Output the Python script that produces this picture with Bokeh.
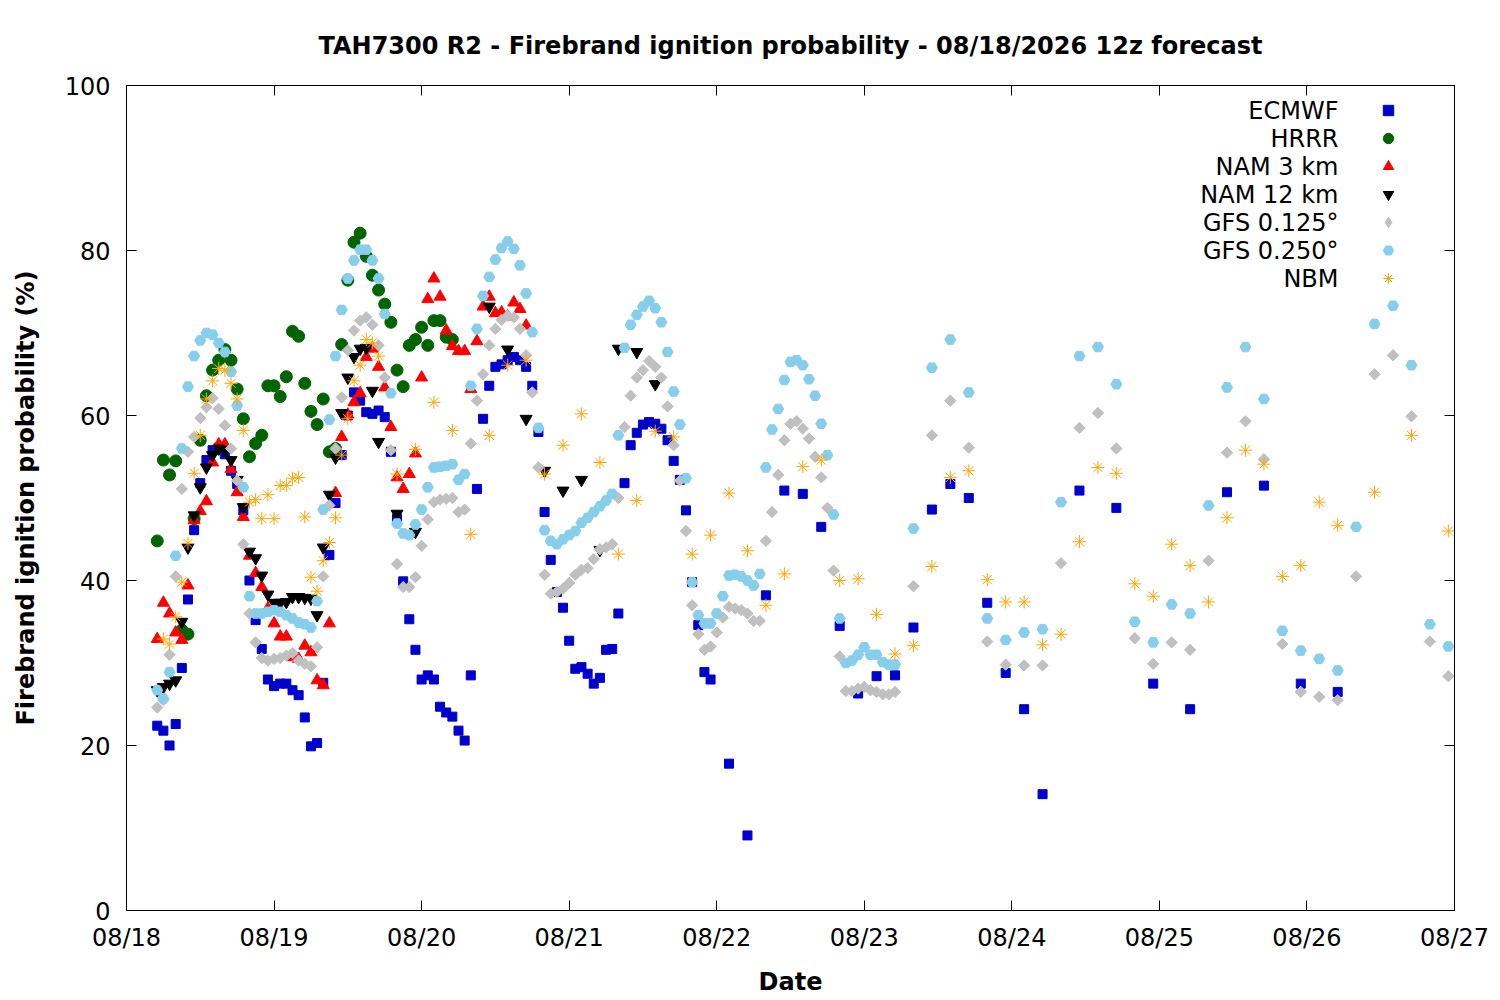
from datetime import datetime, timedelta

from bokeh.plotting import figure
from bokeh.models import (ColumnDataSource, Range1d, DatetimeAxis, LinearAxis, FixedTicker,
                          DatetimeTickFormatter, CustomJSTickFormatter, Legend, LegendItem, Label)
from bokeh.embed import file_html
from bokeh.resources import INLINE

BASE = datetime(2026, 8, 18)
FONT = "DejaVu Sans"

# valid time of each forecast step, in hours after 08/18 00:00 local
ecmwf_hours = list(range(5, 96)) + list(range(98, 150, 3)) + list(range(155, 198, 6))
hrrr_hours = list(range(5, 54))
nam3_hours = list(range(5, 66))
nam12_hours = list(range(5, 42)) + [44, 47] + list(range(59, 87, 3))
gfs_hours = list(range(5, 126)) + list(range(128, 216, 3))
nbm_hours = list(range(6, 42)) + list(range(44, 198, 3)) + [203, 209, 215]

# firebrand ignition probability (%) per model
ecmwf = [22.4, 21.8, 20.0, 22.6, 29.4, 37.7, 46.1, 51.8, 54.6, 55.8, 56.1, 55.3, 53.3, 51.7, 48.5,
         40.0, 35.2, 31.7, 28.0, 27.2, 27.5, 27.5, 26.7, 26.1, 23.4, 19.9, 20.3, 27.6, 43.1, 49.4,
         55.2, 60.0, 62.8, 61.8, 60.4, 60.2, 60.6, 59.8, 55.6, 47.5, 39.9, 35.3, 31.6, 28.0, 28.5,
         28.0, 24.7, 24.0, 23.5, 21.8, 20.6, 28.5,
         51.1, 59.6, 63.6, 65.9, 66.2, 66.7, 67.1, 66.7, 65.9, 63.6, 58.0, 48.3, 42.5,
         38.6, 36.7, 32.7, 29.3, 29.5, 28.7, 27.5, 28.2, 31.6, 31.7, 36.0, 51.8, 56.4, 57.9, 58.9,
         59.2, 59.0, 58.4, 57.0, 54.5, 52.2, 48.5, 39.8, 34.6, 28.9, 28.0,
         17.8, 9.1, 38.2, 50.9, 50.5, 46.5, 34.5, 26.3, 28.4, 28.5, 34.3, 48.6, 51.7, 50.0, 37.3,
         28.8, 24.4, 14.1,
         50.9, 48.8, 27.5, 24.4, 50.7, 51.5, 27.5, 26.5]

hrrr = [44.8, 54.6, 52.8, 54.5, 34.0, 33.5, 47.5, 57.0, 62.4, 65.5, 66.7, 68.0, 66.7, 63.2, 59.6,
        55.0, 56.6, 57.6, 63.6, 63.6, 62.3, 64.7, 70.2, 69.6, 63.9, 60.5, 58.9, 62.0, 55.6, 56.0,
        68.6, 76.4, 81.0, 82.1, 79.3, 77.0, 75.2, 73.5, 71.3, 65.5, 63.5, 68.5, 69.2, 70.7, 68.5,
        71.5, 71.5, 69.5, 69.2]

nam3 = [32.9, 37.3, 36.0, 33.7, 32.8, 39.4, 47.3, 48.4, 49.6, 54.3, 56.5, 56.5, 53.5, 50.7, 47.7,
        43.0, 40.9, 39.2, 36.6, 34.8, 33.2, 33.2, 30.7, 30.5, 32.1, 31.3, 27.9, 27.3, 34.8, 50.6,
        57.4, 60.1, 61.6, 62.7, 67.1, 68.1, 65.9, 63.4, 58.6, 52.5, 51.1, 52.9, 55.4, 64.6, 74.1,
        76.6, 74.4, 70.3, 68.4, 67.8, 67.8, 63.2, 69.0, 73.2, 74.4, 72.4, 72.5, 72.0, 73.7, 72.9,
        70.9]

nam12 = [26.7, 27.1, 27.5, 27.9, 35.0, 44.0, 47.9, 51.3, 53.7, 55.2, 56.0, 55.8, 54.6, 52.2, 48.9,
         43.5, 42.7, 40.6, 38.3, 37.3, 37.3, 37.4, 38.0, 38.0, 37.9, 37.8, 35.8, 44.0, 50.4, 54.9,
         60.3, 64.6, 67.1, 68.1, 68.2, 63.0, 56.8,
         48.1, 45.9,
         73.2, 68.0, 59.6, 53.3, 50.9, 52.2, 43.7, 68.1, 67.7, 63.8]

gfs0125 = [24.6, 25.5, 31.0, 40.5, 51.1, 55.6, 57.4, 59.7, 61.0, 62.1, 60.8, 58.8, 56.0, 52.1, 44.4,
           36.0, 32.5, 30.6, 30.3, 30.5, 30.6, 30.9, 31.2, 30.3, 29.9, 29.6, 31.9, 40.5,
           49.1, 56.0, 62.2, 67.9, 70.3, 71.5, 71.9, 71.0, 68.5, 64.6, 55.8,
           42.0, 39.2, 39.2, 40.4, 44.2, 47.4, 49.5, 49.8, 49.9, 50.0, 48.3, 48.6, 56.6, 61.8, 65.0,
           68.5, 70.5, 71.6, 72.1, 71.9, 70.5, 67.3, 62.8, 53.7, 40.7, 38.4,
           38.6, 39.0, 39.7, 40.7, 41.3, 41.5, 42.6, 43.8, 44.0, 44.4, 50.0, 58.6, 62.4, 64.6, 65.5,
           66.6, 65.9, 64.6, 61.1, 56.4, 52.1, 46.0, 37.0, 33.5, 31.6, 32.0, 33.7, 35.5,
           36.8, 36.6, 36.4, 36.0, 35.1, 35.1, 44.8, 48.3, 52.8, 57.0, 59.0, 59.3, 58.4, 57.2, 55.0,
           52.5, 48.8, 41.2, 30.8, 26.6, 26.6, 26.9, 27.1, 26.7, 26.5, 26.2, 26.2, 26.5,
           39.3, 57.6, 61.8, 56.1, 32.6, 29.8, 29.7, 29.7, 42.1, 58.5, 60.3, 56.0, 33.0, 29.9, 32.5,
           31.6, 42.4, 55.5, 59.3, 54.7, 32.3, 26.5, 25.9, 25.5, 40.5, 65.0, 67.3, 59.9, 32.6, 28.4]

gfs0250 = [26.7, 25.7, 28.9, 43.0, 56.0, 63.5, 67.2, 69.1, 70.0, 69.8, 68.8, 67.7, 65.3, 61.2, 51.3,
           38.1, 36.0, 36.0, 36.2, 36.4, 36.2, 35.8, 35.4, 34.9, 34.7, 34.3, 37.5, 48.6,
           59.5, 67.2, 72.8, 76.6, 78.8, 80.1, 80.1, 78.8, 76.6, 72.3, 62.7,
           46.9, 45.7, 45.5, 46.8, 48.6, 51.3, 53.7, 53.8, 53.9, 54.1, 52.2, 52.9, 63.6, 70.5, 74.5,
           76.8, 78.9, 80.3, 81.1, 80.2, 78.2, 74.8, 70.1, 58.5, 46.1, 44.8,
           44.4, 45.0, 45.5, 46.0, 47.0, 47.6, 48.3, 49.0, 49.7, 50.5, 57.6, 68.2, 71.0, 72.2, 73.2,
           73.9, 73.0, 71.3, 67.7, 62.9, 58.9, 52.4, 39.8, 35.8, 34.8, 34.8, 36.0, 38.1,
           40.6, 40.7, 40.5, 40.0, 39.4, 40.8, 53.7, 58.3, 60.8, 64.3, 66.5, 66.7, 66.1, 64.4, 62.4,
           59.0, 55.2, 48.0, 35.4, 30.0, 30.3, 31.0, 31.9, 31.0, 31.0, 30.1, 29.8, 29.8,
           46.3, 65.8, 69.2, 62.8, 35.4, 32.8, 33.7, 34.1, 49.5, 67.2, 68.3, 63.8, 35.0, 32.5, 37.1,
           36.0, 49.1, 63.4, 68.3, 62.0, 33.9, 31.5, 30.5, 29.1, 46.5, 71.1, 73.3, 66.1, 34.7, 32.0]

nbm = [32.9, 32.3, 35.6, 39.8, 44.5, 53.0, 57.6, 62.0, 64.2, 65.7, 65.5, 63.9, 62.0, 58.2, 49.5,
       49.8, 47.5, 50.4, 47.5, 51.5, 51.5, 52.4, 52.5, 47.7, 40.4, 38.7, 42.4, 44.6, 47.6, 55.2,
       59.6, 64.2, 66.1, 69.2, 68.8, 67.2,
       52.9, 55.9, 61.6, 58.2, 45.6, 57.6, 66.1, 66.7, 52.9, 56.4, 60.2, 54.3, 43.2, 49.7, 58.1,
       57.4, 43.2, 45.5, 50.6, 43.6, 37.0, 40.8, 53.8, 54.6, 40.0, 40.2, 35.9, 31.1, 32.1, 41.7,
       52.5, 53.3, 40.1, 37.4, 37.4, 32.2, 33.5, 44.7, 53.7, 53.0, 39.6, 38.1, 44.4, 41.8, 37.4,
       47.6, 55.8, 54.1, 40.5, 41.8, 49.5, 46.7,
       50.7, 57.6, 46.0]

day_ticks = [BASE + timedelta(days=d) for d in range(10)]
y_ticks = [0, 20, 40, 60, 80, 100]


def to_ms(dt):
    return (dt - datetime(1970, 1, 1)).total_seconds() * 1000.0


def times(hours):
    return [BASE + timedelta(hours=h) for h in hours]


p = figure(x_axis_type="datetime", frame_width=1328, frame_height=825,
           x_range=Range1d(day_ticks[0], day_ticks[-1]), y_range=Range1d(0, 100),
           min_border_left=126, min_border_right=38, min_border_top=85, min_border_bottom=82,
           output_backend="svg", toolbar_location=None, tools="",
           title="TAH7300 R2 - Firebrand ignition probability - 08/18/2026 12z forecast")

p.title.align = "center"
p.title.text_font = FONT
p.title.text_font_size = "24px"
p.title.text_font_style = "bold"
p.title.text_color = "black"
p.title.standoff = 51

p.grid.visible = False
p.outline_line_color = "black"
p.outline_line_width = 1
p.background_fill_color = "white"
p.border_fill_color = "white"

x_ticker = FixedTicker(ticks=[to_ms(d) for d in day_ticks])
y_ticker = FixedTicker(ticks=y_ticks)

p.xaxis.ticker = x_ticker
p.xaxis.formatter = DatetimeTickFormatter(days="%m/%d", hours="%m/%d", months="%m/%d")
p.yaxis.ticker = y_ticker
for ax in (p.xaxis[0], p.yaxis[0]):
    ax.major_tick_in = 10
    ax.major_tick_out = 0
    ax.minor_tick_line_color = None
    ax.axis_line_color = "black"
    ax.major_tick_line_color = "black"
    ax.major_label_text_font = FONT
    ax.major_label_text_font_size = "24px"
    ax.major_label_text_color = "black"
    ax.axis_label_text_font = FONT
    ax.axis_label_text_font_size = "24px"
    ax.axis_label_text_font_style = "bold"
    ax.axis_label_text_color = "black"
p.xaxis.axis_label = "Date"
p.yaxis.axis_label = "Firebrand ignition probability (%)"
p.xaxis.major_label_standoff = 13
p.yaxis.major_label_standoff = 16
p.xaxis.axis_label_standoff = 13
p.yaxis.axis_label_standoff = 22

# mirrored ticks on the top and right border, no labels
blank = CustomJSTickFormatter(code="return ''")
top_axis = DatetimeAxis(ticker=x_ticker, formatter=blank)
right_axis = LinearAxis(ticker=y_ticker, formatter=blank)
for ax in (top_axis, right_axis):
    ax.major_tick_in = 10
    ax.major_tick_out = 0
    ax.minor_tick_line_color = None
    ax.major_label_text_font_size = "1px"
    ax.major_label_standoff = 0
p.add_layout(top_axis, "above")
p.add_layout(right_axis, "right")

series = [
    ("ECMWF", ecmwf_hours, ecmwf, dict(marker="square", size=9, color="#0000CD")),
    ("HRRR", hrrr_hours, hrrr, dict(marker="circle", size=12, color="#006400")),
    ("NAM 3 km", nam3_hours, nam3, dict(marker="triangle", size=12, color="#FF0000")),
    ("NAM 12 km", nam12_hours, nam12, dict(marker="inverted_triangle", size=12, color="#000000")),
    ("GFS 0.125°", gfs_hours, gfs0125, dict(marker="square", size=8, angle=0.785398, color="#C0C0C0")),
    ("GFS 0.250°", gfs_hours, gfs0250, dict(marker="hex", size=11, color="#87CEEB")),
    ("NBM", nbm_hours, nbm, dict(marker="asterisk", size=13, line_width=1, color="#FFA500")),
]

items = []
for name, hours, vals, style in series:
    src = ColumnDataSource(data=dict(t=times(hours), v=vals))
    r = p.scatter(x="t", y="v", source=src, **style)
    if style.get("angle"):
        # the key ignores marker rotation, so give it a diamond swatch (not drawn in the plot)
        r = p.scatter(x="t", y="v", source=src, marker="diamond", color=style["color"], visible=False)
    items.append(LegendItem(label="", renderers=[r]))

# gnuplot-style key: right aligned text with the marker to its right
legend = Legend(items=items, location=(1249, 619), padding=0, spacing=2, margin=0,
                glyph_width=26, glyph_height=26, label_standoff=0,
                border_line_color=None, background_fill_alpha=0)
p.add_layout(legend)

for i, (name, _, _, _) in enumerate(series):
    p.add_layout(Label(x=1212, y=800 - 28 * i, x_units="screen", y_units="screen", text=name,
                       text_align="right", text_baseline="middle", text_font=FONT,
                       text_font_size="24px", text_color="black"))

open("out.html", "w").write(file_html(p, INLINE))
